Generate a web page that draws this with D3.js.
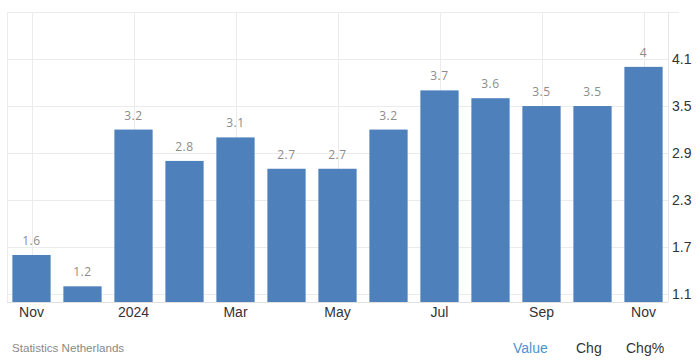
<!DOCTYPE html>
<html>
<head>
<meta charset="utf-8">
<script src="https://cdn.jsdelivr.net/npm/d3@7"></script>
<style>
  html, body { margin: 0; padding: 0; background: #fff; }
  svg { display: block; }
</style>
</head>
<body>
<svg id="chart" width="700" height="360"></svg>
<script>
const categories = ["Nov 2023","Dec 2023","Jan 2024","Feb 2024","Mar 2024","Apr 2024","May 2024","Jun 2024","Jul 2024","Aug 2024","Sep 2024","Oct 2024","Nov 2024"];
const values = [1.6, 1.2, 3.2, 2.8, 3.1, 2.7, 2.7, 3.2, 3.7, 3.6, 3.5, 3.5, 4];
const xTickLabels = ["Nov", "", "2024", "", "Mar", "", "May", "", "Jul", "", "Sep", "", "Nov"];
const yTicks = [1.1, 1.7, 2.3, 2.9, 3.5, 4.1];
const legendItems = ["Value", "Chg", "Chg%"];
const sourceText = "Statistics Netherlands";

const svg = d3.select("#chart");
const plotLeft = 6, plotRight = 669, plotTop = 12, plotBottom = 302;

const x = d3.scaleBand().domain(categories).range([plotLeft, plotRight]).paddingInner(0.25).paddingOuter(0.125);
const y = d3.scaleLinear().domain([1.0, 4.7]).range([plotBottom, plotTop]);

const grid = svg.append("g");
grid.selectAll("line.h").data(yTicks).enter().append("line")
  .attr("x1", 7).attr("x2", 668)
  .attr("y1", d => Math.round(y(d)) + 0.5).attr("y2", d => Math.round(y(d)) + 0.5)
  .attr("stroke", "#ebebeb").attr("stroke-width", 1);
grid.append("line").attr("x1", 7).attr("x2", 679).attr("y1", plotTop + 0.5).attr("y2", plotTop + 0.5)
  .attr("stroke", "#ebebeb");
grid.selectAll("line.v").data(categories.filter((c, i) => xTickLabels[i] !== "")).enter().append("line")
  .attr("x1", d => Math.round(x(d) + x.bandwidth() / 2) + 0.5)
  .attr("x2", d => Math.round(x(d) + x.bandwidth() / 2) + 0.5)
  .attr("y1", plotTop).attr("y2", plotBottom)
  .attr("stroke", "#ebebeb");
grid.append("line").attr("x1", 7.5).attr("x2", 7.5).attr("y1", plotTop).attr("y2", plotBottom).attr("stroke", "#ebebeb");
grid.append("line").attr("x1", 668.5).attr("x2", 668.5).attr("y1", plotTop).attr("y2", plotBottom).attr("stroke", "#e6e6e6");

svg.append("g").selectAll("rect").data(values).enter().append("rect")
  .attr("x", (d, i) => x(categories[i]))
  .attr("width", x.bandwidth())
  .attr("y", d => y(d))
  .attr("height", d => plotBottom - y(d))
  .attr("fill", "#4e80bc");

svg.append("line").attr("x1", 7).attr("x2", 668).attr("y1", plotBottom + 0.5).attr("y2", plotBottom + 0.5)
  .attr("stroke", "#e0e0e0");

svg.append("g").selectAll("text").data(values).enter().append("text")
  .attr("x", (d, i) => x(categories[i]) + x.bandwidth() / 2)
  .attr("y", d => y(d) - 10)
  .attr("text-anchor", "middle")
  .attr("font-family", "'Open Sans', 'Noto Sans', sans-serif")
  .attr("font-size", 12)
  .attr("letter-spacing", 0.6)
  .attr("fill", "#8c8c8c")
  .text(d => String(d));

const xAxis = d3.axisBottom(x).tickSize(0).tickFormat((d, i) => xTickLabels[i]);
const gx = svg.append("g").attr("transform", `translate(0,${plotBottom})`).call(xAxis);
gx.select(".domain").remove();
gx.selectAll("text")
  .attr("dy", 0).attr("y", 15)
  .attr("font-family", "'Liberation Sans', Arial, sans-serif")
  .attr("font-size", 14).attr("fill", "#333");

const yAxis = d3.axisRight(y).tickValues(yTicks).tickSize(0).tickFormat(d3.format(".1f"));
const gy = svg.append("g").attr("transform", `translate(672,0)`).call(yAxis);
gy.select(".domain").remove();
gy.selectAll("text")
  .attr("x", 0).attr("dy", "0.32em")
  .attr("font-family", "'Liberation Sans', Arial, sans-serif")
  .attr("font-size", 14).attr("fill", "#333");

svg.append("text").attr("x", 12).attr("y", 352)
  .attr("font-family", "'Liberation Sans', Arial, sans-serif")
  .attr("font-size", 11.6).attr("fill", "#888").text(sourceText);

const legendX = [513, 576, 626];
const legendColors = ["#4b93d0", "#333", "#333"];
svg.append("g").selectAll("text").data(legendItems).enter().append("text")
  .attr("x", (d, i) => legendX[i]).attr("y", 353)
  .attr("font-family", "'Liberation Sans', Arial, sans-serif")
  .attr("font-size", 14)
  .attr("fill", (d, i) => legendColors[i])
  .text(d => d);
</script>
</body>
</html>
